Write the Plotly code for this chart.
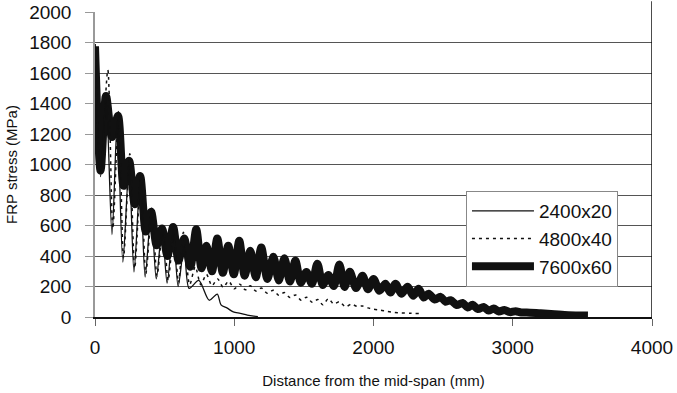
import plotly.graph_objects as go

# ---- data ----
series_names = ["2400x20", "4800x40", "7600x60"]

x_2400 = [0, 40, 80, 122, 160, 200, 245, 280, 325, 360, 403, 440, 482, 518, 561, 597, 640, 676, 745, 820,
          878, 905, 950, 993, 1043, 1094, 1140, 1170]
y_2400 = [1790, 920, 1420, 540, 1290, 360, 1000, 295, 900, 262, 690, 250, 580, 222, 570, 200, 460, 188, 240, 110,
          150, 80, 58, 33, 24, 13, 6, 3]

x_4800 = [0, 40, 92, 128, 170, 205, 250, 285, 330, 365, 410, 445, 490, 525, 565, 600, 635, 680, 720, 760,
          800, 840, 880, 920, 960, 1000, 1040, 1080, 1115, 1155, 1194, 1237, 1280, 1320, 1360, 1400, 1440, 1480,
          1520, 1560, 1600, 1636, 1676, 1715, 1755, 1800, 1840, 1880, 1920, 1960, 2000, 2050, 2100, 2150, 2200,
          2260, 2330]
y_4800 = [1790, 950, 1620, 580, 1350, 390, 1070, 320, 930, 285, 720, 270, 600, 240, 540, 225, 555, 212, 330, 212,
          280, 205, 250, 195, 235, 185, 215, 178, 205, 170, 190, 155, 175, 142, 160, 128, 145, 110,
          130, 96, 115, 80, 120, 85, 100, 66, 85, 70, 72, 60, 52, 45, 36, 30, 27,
          25, 22]

x_7600 = [0, 40, 79, 122, 165, 205, 245, 285, 324, 365, 403, 443, 482, 520, 561, 600, 640, 685, 727, 765,
          800, 840, 878, 918, 957, 997, 1036, 1075, 1115, 1155, 1194, 1238, 1281, 1320, 1360, 1400, 1439, 1478,
          1518, 1558, 1597, 1636, 1676, 1715, 1755, 1792, 1830, 1875, 1921, 1960, 2000, 2043, 2086, 2122, 2158,
          2200, 2245, 2285, 2324, 2360, 2396, 2440, 2482, 2518, 2554, 2597, 2640, 2676, 2712, 2750, 2791, 2827,
          2863, 2900, 2940, 2980, 3020, 3060, 3100, 3200, 3300, 3400, 3540]
y_7600 = [1775, 960, 1450, 1180, 1320, 860, 1025, 740, 925, 560, 690, 470, 580, 400, 590, 370, 515, 330, 575, 320,
          467, 300, 515, 290, 467, 280, 500, 270, 434, 260, 455, 250, 395, 240, 385, 232, 370, 225,
          295, 218, 350, 210, 275, 203, 345, 197, 296, 190, 270, 182, 250, 172, 218, 160, 218,
          152, 198, 140, 185, 128, 152, 115, 132, 100, 110, 78, 92, 62, 80, 52, 66, 42,
          55, 36, 46, 32, 38, 30, 30, 24, 18, 12, 10]

x_ticks = [0, 1000, 2000, 3000, 4000]
y_ticks = [0, 200, 400, 600, 800, 1000, 1200, 1400, 1600, 1800, 2000]

FONT = "Liberation Sans, Arial, sans-serif"

fig = go.Figure()

fig.add_trace(go.Scatter(x=x_7600, y=y_7600, name=series_names[2], mode="lines",
                         line=dict(color="#111111", width=8, shape="spline", smoothing=0.8),
                         legendrank=3))
fig.add_trace(go.Scatter(x=x_4800, y=y_4800, name=series_names[1], mode="lines",
                         line=dict(color="#111111", width=1.5, dash="3px,4px", shape="spline", smoothing=0.8),
                         legendrank=2))
fig.add_trace(go.Scatter(x=x_2400, y=y_2400, name=series_names[0], mode="lines",
                         line=dict(color="#111111", width=1.3, shape="spline", smoothing=0.8),
                         legendrank=1))

fig.update_layout(
    width=677, height=393,
    margin=dict(l=95, r=25, t=12, b=76),
    paper_bgcolor="white", plot_bgcolor="white",
    font=dict(family=FONT, color="#111111"),
    showlegend=True,
    legend=dict(x=0.666, y=0.413, xanchor="left", yanchor="top",
                bgcolor="white", bordercolor="#888888", borderwidth=1,
                font=dict(size=19, family=FONT, color="#111111"),
                itemwidth=62, tracegroupgap=0),
    xaxis=dict(range=[0, 4000], tickvals=x_ticks, ticktext=[str(v) for v in x_ticks],
               automargin=False,
               showgrid=False, zeroline=False,
               showline=True, linecolor="#111111", linewidth=1.5,
               ticks="outside", ticklen=7, tickcolor="#666666", tickwidth=1,
               ticklabelstandoff=5,
               tickfont=dict(size=19, family=FONT),
               title=dict(text="Distance from the mid-span (mm)", font=dict(size=15, family=FONT), standoff=19)),
    yaxis=dict(range=[0, 2000], tickvals=y_ticks, ticktext=[str(v) for v in y_ticks],
               automargin=False,
               showgrid=True, gridcolor="#555555", gridwidth=1,
               zeroline=False,
               showline=True, linecolor="#999999", linewidth=1.5,
               ticks="outside", ticklen=8, tickcolor="#999999", tickwidth=1,
               ticklabelstandoff=10,
               tickfont=dict(size=19, family=FONT),
               title=dict(text="FRP stress (MPa)", font=dict(size=15, family=FONT), standoff=8)),
)

# right border of the chart frame
fig.add_shape(type="line", xref="x", yref="paper", x0=4000, x1=4000, y0=0, y1=1.035,
              line=dict(color="#111111", width=1.5))

fig.write_html("out.html")
